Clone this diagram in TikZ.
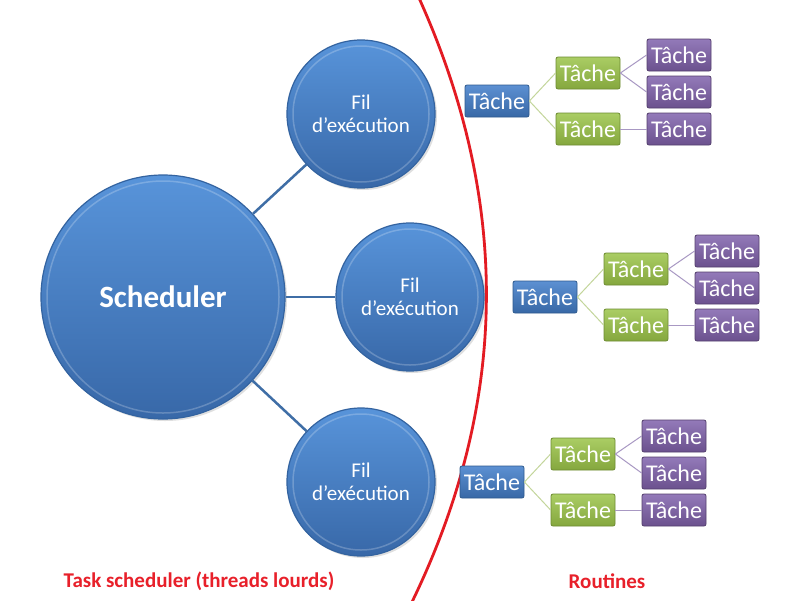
\documentclass[tikz,border=0pt]{standalone}
\usepackage{fontspec}
\setmainfont{Carlito}
\usetikzlibrary{shadows}
\definecolor{cirtop}{HTML}{5894DA}
\definecolor{cirbot}{HTML}{3868A8}
\definecolor{cirrim}{HTML}{3363A0}
\definecolor{btop}{HTML}{5C90D2}
\definecolor{bbot}{HTML}{3868A6}
\definecolor{bdraw}{HTML}{2E5A8E}
\definecolor{gtop}{HTML}{AACD64}
\definecolor{gbot}{HTML}{85A73E}
\definecolor{gdraw}{HTML}{6E8C32}
\definecolor{ptop}{HTML}{937AB9}
\definecolor{pbot}{HTML}{6B518E}
\definecolor{pdraw}{HTML}{55406E}
\definecolor{glink}{HTML}{C3D69B}
\definecolor{plink}{HTML}{A898C3}
\definecolor{clink}{HTML}{3F6EA6}
\definecolor{redline}{HTML}{E31B23}
\definecolor{redtext}{HTML}{E8202A}
\tikzset{
  bubble/.style={circle, draw=cirrim, line width=1.2pt, top color=cirtop, bottom color=cirbot,
     text=white, align=center, inner sep=0pt,
     drop shadow={opacity=0.25, shadow xshift=2pt, shadow yshift=-2pt}},
  bigbubble/.style={bubble, minimum size=244pt, font=\fontsize{31}{36}\selectfont\bfseries},
  filbubble/.style={bubble, minimum size=148pt, font=\fontsize{21}{23}\selectfont},
  ring/.style={draw=white, opacity=0.22, line width=1.5pt},
  tbox/.style={rectangle, rounded corners=2pt, minimum width=64pt, minimum height=32pt, inner sep=0pt,
     text=white, font=\fontsize{24}{26}\selectfont, line width=0.8pt},
  bluebox/.style={tbox, draw=bdraw, top color=btop, bottom color=bbot},
  greenbox/.style={tbox, draw=gdraw, top color=gtop, bottom color=gbot},
  purplebox/.style={tbox, draw=pdraw, top color=ptop, bottom color=pbot},
  clinkst/.style={draw=clink, line width=2.5pt},
  glinkst/.style={draw=glink, line width=1pt},
  plinkst/.style={draw=plink, line width=1pt},
  label/.style={text=redtext, font=\fontsize{21}{24}\selectfont\bfseries}
}
\begin{document}
\begin{tikzpicture}[x=1pt,y=-1pt]
\useasboundingbox (0,0) rectangle (800,600);
\fill[white] (0,0) rectangle (800,600);
% circles
\node[bigbubble] (sch) at (163,297) {Scheduler};
\node[filbubble] (f1) at (361,114) {Fil\\d’exécution};
\node[filbubble] (f2) at (410,297) {Fil\\d’exécution};
\node[filbubble] (f3) at (361,482) {Fil\\d’exécution};
\draw[ring] (sch.center) circle (116);
\draw[ring] (f1.center) circle (68);
\draw[ring] (f2.center) circle (68);
\draw[ring] (f3.center) circle (68);
\draw[clinkst] (sch) -- (f1);
\draw[clinkst] (sch) -- (f2);
\draw[clinkst] (sch) -- (f3);
% red separator
\coordinate (rtop) at (419,-2);
\coordinate (rbot) at (412,602);
\draw[redline, line width=2.8pt] (rtop) .. controls (510,200) and (510,400) .. (rbot);
% trees
\foreach \n/\dx/\dy in {a/0/0, b/48/196, c/-5/381}{
  \begin{scope}[shift={(\dx,\dy)}]
    \node[bluebox] (r\n) at (497,101) {Tâche};
    \node[greenbox] (g\n1) at (588,73) {Tâche};
    \node[greenbox] (g\n2) at (588,129) {Tâche};
    \node[purplebox] (p\n1) at (679,55) {Tâche};
    \node[purplebox] (p\n2) at (679,92) {Tâche};
    \node[purplebox] (p\n3) at (679,129) {Tâche};
  \end{scope}
  \draw[glinkst] (r\n.east) -- (g\n1.west);
  \draw[glinkst] (r\n.east) -- (g\n2.west);
  \draw[plinkst] (g\n1.east) -- (p\n1.west);
  \draw[plinkst] (g\n1.east) -- (p\n2.west);
  \draw[plinkst] (g\n2.east) -- (p\n3.west);
}
% labels
\node[label] (lt) at (199,581) {Task scheduler (threads lourds)};
\node[label] (lr) at (607,581) {Routines};
\end{tikzpicture}
\end{document}
